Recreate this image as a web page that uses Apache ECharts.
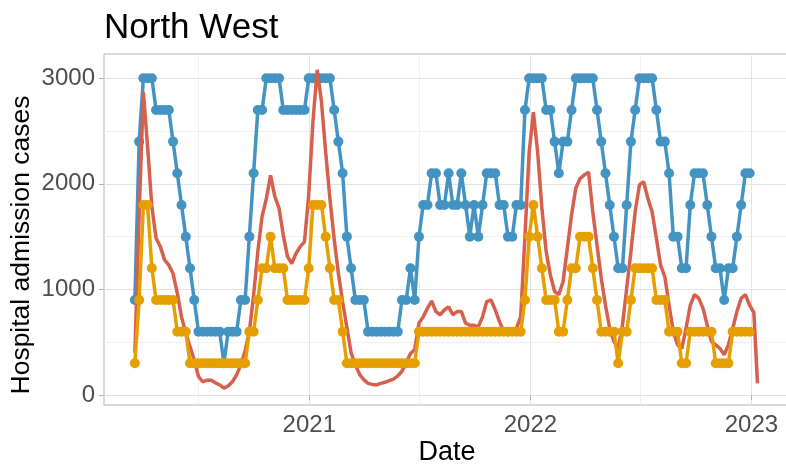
<!DOCTYPE html>
<html>
<head>
<meta charset="utf-8">
<title>North West</title>
<script src="https://cdn.jsdelivr.net/npm/echarts@6/dist/echarts.min.js"></script>
<style>
  html, body { margin: 0; padding: 0; background: #ffffff; }
  #chart { width: 786px; height: 471px; }
</style>
</head>
<body>
<div id="chart"></div>
<script>
// Weekly series start on this date (year, month index, day)
const firstWeek = [2020, 2, 19];
// Last daily-derived point of the red series
const redLastDate = [2023, 0, 11];

// Upper step series (blue), one value per week
const blueValues = [
  900, 2400, 3000, 3000, 3000, 2700, 2700, 2700, 2700, 2400,
  2100, 1800, 1500, 1200, 900, 600, 600, 600, 600, 600,
  600, 300, 600, 600, 600, 900, 900, 1500, 2100, 2700,
  2700, 3000, 3000, 3000, 3000, 2700, 2700, 2700, 2700, 2700,
  2700, 3000, 3000, 3000, 3000, 3000, 3000, 2700, 2400, 2100,
  1500, 1200, 900, 900, 900, 600, 600, 600, 600, 600,
  600, 600, 600, 900, 900, 1200, 900, 1500, 1800, 1800,
  2100, 2100, 1800, 1800, 2100, 1800, 1800, 2100, 1800, 1500,
  1800, 1500, 1800, 2100, 2100, 2100, 1800, 1800, 1500, 1500,
  1800, 1800, 2700, 3000, 3000, 3000, 3000, 2700, 2700, 2400,
  2100, 2400, 2400, 2700, 3000, 3000, 3000, 3000, 3000, 2700,
  2400, 2100, 1800, 1500, 1200, 1200, 1800, 2400, 2700, 3000,
  3000, 3000, 3000, 2700, 2400, 2400, 2100, 1500, 1500, 1200,
  1200, 1800, 2100, 2100, 2100, 1800, 1500, 1200, 1200, 900,
  1200, 1200, 1500, 1800, 2100, 2100
];

// Lower step series (orange), one value per week
const orangeValues = [
  300, 900, 1800, 1800, 1200, 900, 900, 900, 900, 900,
  600, 600, 600, 300, 300, 300, 300, 300, 300, 300,
  300, 300, 300, 300, 300, 300, 300, 600, 600, 900,
  1200, 1200, 1500, 1200, 1200, 1200, 900, 900, 900, 900,
  900, 1200, 1800, 1800, 1800, 1500, 1200, 900, 900, 600,
  300, 300, 300, 300, 300, 300, 300, 300, 300, 300,
  300, 300, 300, 300, 300, 300, 300, 600, 600, 600,
  600, 600, 600, 600, 600, 600, 600, 600, 600, 600,
  600, 600, 600, 600, 600, 600, 600, 600, 600, 600,
  600, 600, 900, 1500, 1800, 1500, 1200, 900, 900, 900,
  600, 600, 900, 1200, 1200, 1500, 1500, 1500, 1200, 900,
  600, 600, 600, 600, 300, 600, 600, 900, 1200, 1200,
  1200, 1200, 1200, 900, 900, 900, 600, 600, 600, 300,
  300, 600, 600, 600, 600, 600, 600, 300, 300, 300,
  300, 600, 600, 600, 600, 600
];

// Observed admissions (red): weekly values, the final one on redLastDate
const redValues = [
  400, 1700, 2870, 2350, 1785, 1485, 1405, 1280, 1230, 1150,
  965, 740, 585, 460, 330, 175, 125, 140, 140, 115,
  95, 65, 85, 125, 190, 285, 420, 600, 945, 1360,
  1690, 1860, 2080, 1880, 1770, 1515, 1310, 1245, 1340, 1405,
  1450, 1895, 2590, 3080, 2780, 2300, 1860, 1480, 1150, 880,
  640, 400, 285, 195, 145, 110, 100, 95, 110, 120,
  135, 150, 180, 225, 310, 390, 430, 680, 740, 820,
  890, 790, 760, 805, 835, 760, 790, 790, 680, 660,
  660, 645, 740, 885, 900, 805, 695, 600, 570, 585,
  630, 740, 1500, 2300, 2680, 2300, 1770, 1360, 1135, 980,
  950, 1075, 1390, 1705, 1960, 2050, 2085, 2110, 1735, 1420,
  1105, 850, 630, 505, 440, 660, 1010, 1360, 1735, 1990,
  2020, 1860, 1735, 1485, 1230, 1120, 850, 600, 475, 440,
  630, 850, 950, 915, 820, 660, 505, 475, 440, 380,
  475, 630, 790, 915, 950, 850, 780,
  110
];

// Axis ticks
const yMajorTicks = [0, 1000, 2000, 3000];
const yMinorTicks = [500, 1500, 2500];
const xMajorYears = [2021, 2022, 2023];   // 1 January
const xMinorYears = [2020, 2021, 2022];   // 1 July

const FONT = '"Liberation Sans", Arial, sans-serif';

const weekTime = (i) => new Date(firstWeek[0], firstWeek[1], firstWeek[2] + 7 * i).getTime();

const blueData = blueValues.map((v, i) => [weekTime(i), v]);
const orangeData = orangeValues.map((v, i) => [weekTime(i), v]);
const redData = redValues.map((v, i) =>
  i < redValues.length - 1
    ? [weekTime(i), v]
    : [new Date(redLastDate[0], redLastDate[1], redLastDate[2]).getTime(), v]
);

const xMajor = xMajorYears.map((y) => new Date(y, 0, 1).getTime());
const xMinor = xMinorYears.map((y) => new Date(y, 6, 1).getTime());
const xMin = new Date(2020, 0, 28).getTime();
const xMax = new Date(2023, 2, 4).getTime();
const yMin = -95;
const yMax = 3230;

const chart = echarts.init(document.getElementById('chart'), null, { renderer: 'canvas' });

chart.setOption({
  animation: false,
  backgroundColor: '#ffffff',
  grid: {
    left: 104, top: 54, width: 685, height: 351,
    show: true, borderColor: '#b3b3b3', borderWidth: 1,
    backgroundColor: 'transparent',
    containLabel: false,
    outerBoundsMode: 'none'
  },
  xAxis: [
    {
      // dates as timestamps on a linear axis
      type: 'value', min: xMin, max: xMax, scale: true,
      axisLine: { show: false },
      axisTick: { show: true, customValues: xMajor, length: 5, lineStyle: { color: '#b3b3b3', width: 1 } },
      axisLabel: {
        customValues: xMajor,
        formatter: (v) => String(new Date(v).getFullYear()),
        color: '#4d4d4d', fontSize: 24, fontFamily: FONT, margin: 8
      },
      splitLine: { show: true, lineStyle: { color: '#e3e3e3', width: 1 } }
    },
    {
      type: 'value', min: xMin, max: xMax, scale: true,
      axisLine: { show: false },
      axisLabel: { show: false },
      axisTick: { show: false, customValues: xMinor },
      splitLine: { show: true, lineStyle: { color: '#f0f0f0', width: 1 } }
    }
  ],
  yAxis: [
    {
      type: 'value', min: yMin, max: yMax,
      axisLine: { show: false },
      axisTick: { show: true, customValues: yMajorTicks, length: 5, lineStyle: { color: '#b3b3b3', width: 1 } },
      axisLabel: {
        customValues: yMajorTicks,
        formatter: (v) => String(v),
        color: '#4d4d4d', fontSize: 24, fontFamily: FONT, margin: 9
      },
      splitLine: { show: true, lineStyle: { color: '#e3e3e3', width: 1 } }
    },
    {
      type: 'value', min: yMin, max: yMax,
      axisLine: { show: false },
      axisLabel: { show: false },
      axisTick: { show: false, customValues: yMinorTicks },
      splitLine: { show: true, lineStyle: { color: '#f0f0f0', width: 1 } }
    }
  ],
  graphic: [
    {
      type: 'text', x: 104, y: 28, silent: true,
      style: { text: 'North West', font: '35px ' + FONT, fill: '#000000', align: 'left', verticalAlign: 'middle' }
    },
    {
      type: 'text', x: 22, y: 245, rotation: Math.PI / 2, silent: true,
      style: { text: 'Hospital admission cases', font: '26.5px ' + FONT, fill: '#000000', align: 'center', verticalAlign: 'middle' }
    },
    {
      type: 'text', x: 447, y: 453, silent: true,
      style: { text: 'Date', font: '27px ' + FONT, fill: '#000000', align: 'center', verticalAlign: 'middle' }
    }
  ],
  series: [
    {
      name: 'Upper', type: 'line', xAxisIndex: 0, yAxisIndex: 0, z: 2,
      data: blueData,
      symbol: 'circle', symbolSize: 10, showSymbol: true,
      lineStyle: { color: '#4393C3', width: 3.5 },
      itemStyle: { color: '#4393C3' }
    },
    {
      name: 'Observed', type: 'line', xAxisIndex: 0, yAxisIndex: 0, z: 3,
      data: redData,
      symbol: 'none', showSymbol: false,
      lineStyle: { color: '#D6604D', width: 3.5 },
      itemStyle: { color: '#D6604D' }
    },
    {
      name: 'Lower', type: 'line', xAxisIndex: 0, yAxisIndex: 0, z: 4,
      data: orangeData,
      symbol: 'circle', symbolSize: 10, showSymbol: true,
      lineStyle: { color: '#E69F00', width: 3.5 },
      itemStyle: { color: '#E69F00' }
    }
  ]
});
</script>
</body>
</html>
